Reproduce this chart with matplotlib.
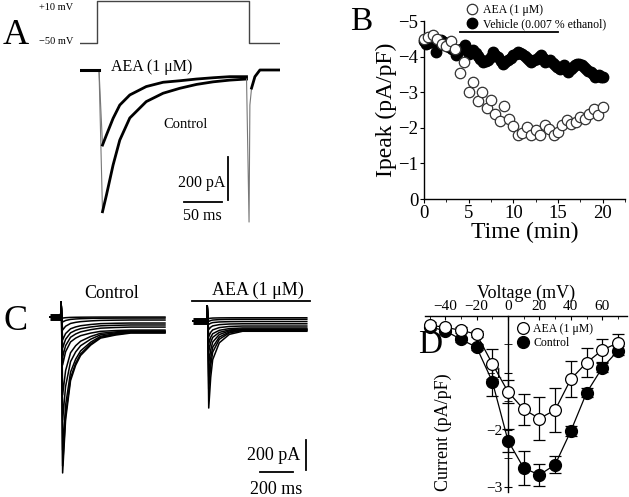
import matplotlib
matplotlib.use("Agg")
import matplotlib.pyplot as plt
from matplotlib.ticker import MultipleLocator

plt.rcParams['font.family'] = ['Liberation Serif', 'DejaVu Serif']
plt.rcParams['axes.linewidth'] = 1.0

W, H = 629, 497

# ---- panel A: voltage step and two current traces (ms, mV, pA)
v_t = [-23, 0, 0, 199, 199, 240]
v_mv = [-50, -50, 10, 10, -50, -50]

a_t = [-23, 0, 2, 6.6, 11.8, 20.5, 29.3, 42.5, 64.1, 86.3, 108.3, 130.3, 152.1, 174.1, 196]
a_ctrl = [0, 0, 0, -659, -581, -442, -326, -223, -147, -108, -85, -67, -55, -47, -42]
a_aea = [0, 0, 0, -349, -302, -225, -163, -116, -77, -57, -50, -42, -36, -31, -31]
tail_t = [196, 199.3, 200.4, 202.6, 207, 213.6, 240]
tail_i = [-42, -707, -163, -84, -31, 0, 0]

# ---- panel B: peak current over time
b_aea_t = [0, 0.5, 1, 1.5, 2, 2.5, 3, 3.5, 4, 4.5, 5, 5.5, 6, 6.5, 7, 7.5, 8, 8.5, 9, 9.5,
           10, 10.5, 11, 11.5, 12, 12.5, 13, 13.5, 14, 14.5, 15, 15.5, 16, 16.5, 17, 17.5,
           18, 18.5, 19, 19.5, 20]
b_aea = [-4.5, -4.55, -4.6, -4.5, -4.35, -4.3, -4.45, -4.2, -3.55, -3.85, -3.0, -3.3, -2.75,
         -3.0, -2.55, -2.78, -2.4, -2.2, -2.6, -2.25, -2.05, -1.8, -1.85, -2.02, -1.8, -1.93,
         -1.8, -2.07, -1.98, -1.8, -1.88, -2.07, -2.23, -2.12, -2.17, -2.31, -2.26, -2.4,
         -2.54, -2.36, -2.59]
b_veh_t = [0.0, 0.2, 0.5, 0.8, 1.3, 1.6, 1.9, 2.2, 2.5, 2.8, 3.1, 3.55, 3.8, 4.1, 4.55, 5.05,
           5.5, 5.8, 6.05, 6.3, 6.6, 6.9, 7.2, 7.5, 7.75, 8.0, 8.3, 8.6, 8.85, 9.1, 9.4, 9.7,
           10.0, 10.25, 10.5, 10.75, 11.0, 11.25, 11.5, 11.75, 12.0, 12.3, 12.6, 12.85, 13.05,
           13.3, 13.5, 13.8, 14.1, 14.4, 14.65, 14.9, 15.2, 15.45, 15.65, 15.9, 16.15, 16.45,
           16.7, 16.95, 17.15, 17.4, 17.65, 17.9, 18.1, 18.4, 18.65, 18.9, 19.1, 19.35, 19.6,
           19.8, 20.0]
b_veh = [-4.45, -4.36, -4.38, -4.41, -4.13, -4.3, -4.48, -4.4, -4.35, -4.28, -4.2, -4.04,
         -4.12, -4.2, -4.32, -4.08, -4.18, -4.1, -4.01, -3.93, -3.85, -3.88, -3.9, -4.0, -4.13,
         -4.05, -3.99, -3.88, -3.8, -3.85, -3.9, -3.97, -4.04, -4.08, -4.13, -4.1, -4.07,
         -4.02, -3.97, -3.9, -3.85, -3.9, -3.94, -4.0, -4.04, -3.95, -3.85, -3.87, -3.9,
         -3.83, -3.76, -3.7, -3.66, -3.7, -3.76, -3.66, -3.57, -3.64, -3.71, -3.76, -3.8,
         -3.78, -3.76, -3.7, -3.66, -3.6, -3.57, -3.5, -3.43, -3.46, -3.48, -3.44, -3.43]
drug_on, drug_off, drug_level = 4, 15, -4.7

# ---- panel C: current families (ms, pA)
c_prof_t = [0, 18, 48, 79, 109, 170, 230, 321, 412]
c_prof = [1, 0.62, 0.34, 0.23, 0.16, 0.086, 0.036, 0.014, 0]
c_ctrl_peak = [-1040, -993, -887, -687, -520, -320, -267, -207, -153, -87, -33, -7]
c_ctrl_ss = [-107, -103, -100, -97, -93, -87, -67, -53, -40, -20, -7, 0]
c_ctrl_hold = 0
c_ctrl_span = (-65, 632)

e_prof_t = [0, 12, 24, 64, 125, 205]
e_prof = [1, 0.6, 0.37, 0.15, 0.04, 0]
c_aea_peak = [-607, -480, -397, -310, -230, -177, -130, -83, -49, -29, -10]
c_aea_ss = [-95, -90, -87, -83, -80, -73, -60, -45, -30, -15, -5]
c_aea_hold = -25
c_aea_onset = 885
c_aea_span = (-83, 606)

# ---- panel D: I-V relation
d_v = [-50, -40, -30, -20, -10, 0, 10, 20, 30, 40, 50, 60, 70]
d_aea = [-0.16, -0.2, -0.25, -0.32, -0.84, -1.33, -1.64, -1.8, -1.65, -1.11, -0.82, -0.6, -0.47]
d_aea_err = [0.05, 0.05, 0.05, 0.05, 0.26, 0.2, 0.27, 0.37, 0.38, 0.32, 0.25, 0.2, 0.15]
d_ctrl = [-0.19, -0.26, -0.41, -0.55, -1.15, -2.19, -2.67, -2.79, -2.61, -2.02, -1.35, -0.91, -0.61]
d_ctrl_err = [0.05, 0.05, 0.05, 0.05, 0.25, 0.2, 0.3, 0.2, 0.15, 0.08, 0.08, 0.08, 0.08]


def px_axes(x0, y0, x1, y1):
    return fig.add_axes([x0 / W, 1 - y1 / H, (x1 - x0) / W, (y1 - y0) / H])


def ftext(x, y, s, **kw):
    kw.setdefault('ha', 'center')
    kw.setdefault('va', 'center')
    fig.text(x / W, 1 - y / H, s, **kw)


fig = plt.figure(figsize=(W / 100, H / 100), dpi=100)

# ================= A
axv = px_axes(80, 0, 280, 50)
axv.plot(v_t, v_mv, color='#444444', lw=1.0)
axv.set_xlim(-23, 240)
axv.set_ylim(-60.7, 12)
axv.axis('off')

axa = px_axes(80, 60, 280, 230)
axa.plot(a_t, a_ctrl, color='#777777', lw=0.8)
axa.plot(a_t, a_aea, color='#777777', lw=0.8)
axa.plot(a_t[:3], a_ctrl[:3], color='black', lw=2.2)
axa.plot(a_t[3:], a_ctrl[3:], color='black', lw=2.0)
axa.plot(a_t[3:], a_aea[3:], color='black', lw=2.0)
axa.plot(tail_t, tail_i, color='#777777', lw=0.8)
axa.plot(tail_t[3:], tail_i[3:], color='black', lw=2.0)
axa.plot([172, 172], [-405, -605], color='black', lw=1.3)       # 200 pA
axa.plot([114, 164], [-614, -614], color='black', lw=1.3)       # 50 ms
axa.set_xlim(-23, 240)
axa.set_ylim(-744, 46.5)
axa.axis('off')

ftext(16, 36, 'A', fontsize=26)
ftext(56, 8, '+10 mV', fontsize=7.5)
ftext(56, 42, '\u221250 mV', fontsize=7.5)
ftext(152, 67, 'AEA (1 \u03bcM)', fontsize=11.5)
ftext(186, 125, 'Control', fontsize=10.5)
ftext(225, 183, '200 pA', fontsize=11.5, ha='right')
ftext(202, 216, '50 ms', fontsize=11.5)

# ================= B
axb = px_axes(424, 21, 625, 199)
axb.plot(b_veh_t, b_veh, 'o', ms=7.5, mfc='black', mec='black', clip_on=False, zorder=3,
         label='Vehicle (0.007 % ethanol)')
axb.plot(b_aea_t, b_aea, 'o', ms=7.5, mfc='white', mec='#333333', mew=0.9, clip_on=False,
         zorder=4, label='AEA (1 \u03bcM)')
axb.plot([drug_on, drug_off], [drug_level, drug_level], color='black', lw=1.3, clip_on=False)
axb.set_xlim(0, 22.5)
axb.set_ylim(0, -5)
axb.xaxis.set_major_locator(MultipleLocator(5))
axb.xaxis.set_minor_locator(MultipleLocator(2.5))
axb.yaxis.set_major_locator(MultipleLocator(1))
for s in ('top', 'right'):
    axb.spines[s].set_visible(False)
axb.tick_params(which='both', direction='out', labelsize=13.5, pad=1)
axb.tick_params(which='major', length=3)
axb.tick_params(which='minor', length=2)
axb.set_xlabel('Time (min)', fontsize=17, labelpad=0)
axb.set_ylabel('Ipeak (pA/pF)', fontsize=17, labelpad=1)
h, l = axb.get_legend_handles_labels()
axb.legend(h[::-1], l[::-1], loc='upper left', bbox_to_anchor=(0.215, 1.094), frameon=False,
           fontsize=8.5, handlelength=0.8, handletextpad=0.5, labelspacing=0.15,
           borderaxespad=0, borderpad=0)
ftext(361, 22, 'B', fontsize=24)

# ================= C
axc = px_axes(40, 280, 320, 480)


def family(peaks, sss, prof_t, prof, hold, span, onset):
    for pk, ss in zip(peaks, sss):
        tt = [span[0], 0, 3, 6, 12] + [12 + p for p in prof_t] + [span[1]]
        ii = [hold, hold, hold + 100, hold, pk] + [ss + (pk - ss) * f for f in prof] + [ss]
        axc.plot([onset + t for t in tt], ii, color='black', lw=1.1)
    axc.plot([onset + span[0], onset], [hold, hold], color='black', lw=5, solid_capstyle='butt')


family(c_ctrl_peak, c_ctrl_ss, c_prof_t, c_prof, c_ctrl_hold, c_ctrl_span, 0)
family(c_aea_peak, c_aea_ss, e_prof_t, e_prof, c_aea_hold, c_aea_span, c_aea_onset)
axc.plot([796, 1509], [107, 107], color='black', lw=1.3)         # AEA application bar
axc.plot([1486, 1486], [-820, -1020], color='black', lw=1.3)     # 200 pA
axc.plot([1207, 1407], [-1034, -1034], color='black', lw=1.3)    # 200 ms
axc.set_xlim(-125, 1571)
axc.set_ylim(-1087, 247)
axc.axis('off')

ftext(16, 322, 'C', fontsize=26)
ftext(112, 293, 'Control', fontsize=13)
ftext(258, 290, 'AEA (1 \u03bcM)', fontsize=13)
ftext(300, 456, '200 pA', fontsize=13, ha='right')
ftext(276, 490, '200 ms', fontsize=13)

# ================= D
axd = px_axes(425, 316, 627, 492)
axd.errorbar(d_v, d_ctrl, yerr=d_ctrl_err, fmt='none', ecolor='black', elinewidth=0.9,
             capsize=4, capthick=0.9, zorder=3)
axd.errorbar(d_v, d_aea, yerr=d_aea_err, fmt='none', ecolor='black', elinewidth=0.9,
             capsize=4, capthick=0.9, zorder=3)
axd.plot(d_v, d_ctrl, '-o', color='black', lw=0.9, ms=8.5, mfc='black', clip_on=False,
         zorder=4, label='Control')
axd.plot(d_v, d_aea, '-o', color='black', lw=0.9, ms=8.5, mfc='white', mew=0.9,
         clip_on=False, zorder=5, label='AEA (1 \u03bcM)')
axd.set_xlim(-52.9, 75.8)
axd.set_ylim(-3.09, 0)
axd.spines['bottom'].set_visible(False)
axd.spines['right'].set_visible(False)
axd.spines['left'].set_position(('data', 0))
axd.xaxis.tick_top()
axd.xaxis.set_label_position('top')
axd.xaxis.set_major_locator(MultipleLocator(20))
axd.xaxis.set_minor_locator(MultipleLocator(10))
axd.set_xticks([-40, -20, 0, 20, 40, 60])
axd.yaxis.set_major_locator(MultipleLocator(1))
axd.yaxis.set_minor_locator(MultipleLocator(0.5))
axd.set_yticks([-1, -2, -3])
axd.tick_params(axis='x', which='both', direction='in', labelsize=11, pad=2)
axd.tick_params(axis='x', which='major', length=3)
axd.tick_params(axis='x', which='minor', length=2)
axd.tick_params(axis='y', which='both', direction='inout', labelsize=11, pad=1)
axd.tick_params(axis='y', which='major', length=6)
axd.tick_params(axis='y', which='minor', length=6)
axd.set_xlabel('Voltage (mV)', fontsize=13, labelpad=2)
h, l = axd.get_legend_handles_labels()
axd.legend(h[::-1], l[::-1], loc='upper left', bbox_to_anchor=(0.46, 0.96), frameon=False,
           fontsize=8.5, handlelength=0.8, handletextpad=0.5, labelspacing=0.2,
           borderaxespad=0, borderpad=0)
ftext(443, 432, 'Current (pA/pF)', fontsize=13, rotation=90)
ftext(430, 345, 'D', fontsize=24)

fig.savefig('out.png', dpi=100)
